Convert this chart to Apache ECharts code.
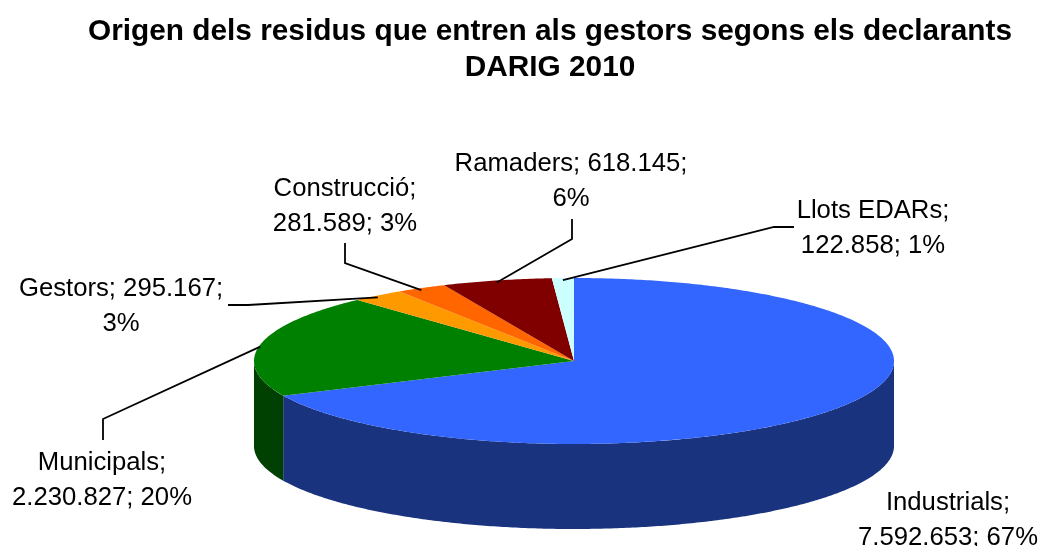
<!DOCTYPE html>
<html>
<head>
<meta charset="utf-8">
<style>
  html, body { margin: 0; background: #fff; }
  #chart { width: 1040px; height: 546px; }
</style>
<script src="https://cdn.jsdelivr.net/npm/echarts@6/dist/echarts.min.js"></script>
</head>
<body>
<div id="chart"></div>
<script>
const categories = ['Industrials', 'Municipals', 'Gestors', 'Construcció', 'Ramaders', 'Llots EDARs']
const values = [7592653, 2230827, 295167, 281589, 618145, 122858]
// percentatges tal com surten a les etiquetes
const percents = [67, 20, 3, 3, 6, 1]

const topColors = ['#3366ff', '#008000', '#ff9900', '#ff6600', '#800000', '#ccffff']
const wallColors = ['#19337f', '#004000', '#7f4c00', '#7f3300', '#400000', '#667f7f']

// geometria del pastis
const cx = 574
const cy = 361
const rx = 320
const ry = 83
const depth = 85

// etiquetes: centre del text, linia on parteix la segona fila i guia
const labelLayout = [
  { x: 948, y: 520, wrap: 'name', guide: null },
  { x: 102, y: 480, wrap: 'name', guide: [[103, 440], [103, 419]] },
  { x: 121, y: 306, wrap: 'value', guide: [[228, 305], [248, 305]] },
  { x: 345, y: 206, wrap: 'name', guide: [[345, 243], [345, 263]] },
  { x: 571, y: 181, wrap: 'value', guide: [[572, 219], [572, 239]] },
  { x: 873, y: 228, wrap: 'name', guide: [[794, 227], [774, 227]] }
]

const total = values.reduce((a, b) => a + b, 0)
const angles = []
let acc = 0
values.forEach(v => {
  const start = acc / total * Math.PI * 2
  acc += v
  angles.push([start, acc / total * Math.PI * 2])
})

function point (t, r = 1, dy = 0) {
  return [cx + rx * r * Math.sin(t), cy - ry * r * Math.cos(t) + dy]
}

function arc (a, b, dy = 0) {
  const pts = []
  const n = Math.max(2, Math.ceil((b - a) / 0.01))
  for (let i = 0; i <= n; i++) pts.push(point(a + (b - a) * i / n, 1, dy))
  return pts
}

function formatValue (v) {
  return String(v).replace(/\B(?=(\d{3})+$)/g, '.')
}

function labelText (i) {
  const name = categories[i] + ';'
  const val = formatValue(values[i]) + ';'
  const pct = percents[i] + '%'
  return labelLayout[i].wrap === 'name' ? name + '\n' + val + ' ' + pct : name + ' ' + val + '\n' + pct
}

function renderWall (params) {
  const i = params.dataIndex
  const a = Math.max(angles[i][0], Math.PI / 2)
  const b = Math.min(angles[i][1], Math.PI * 1.5)
  if (b <= a) return null
  const pts = arc(a, b).concat(arc(a, b, depth).reverse())
  return { type: 'polygon', shape: { points: pts }, style: { fill: wallColors[i] } }
}

function renderTop (params) {
  const i = params.dataIndex
  const pts = [[cx, cy]].concat(arc(angles[i][0], angles[i][1]))
  return { type: 'polygon', shape: { points: pts }, style: { fill: topColors[i] } }
}

function renderLabel (params) {
  const i = params.dataIndex
  const layout = labelLayout[i]
  const children = []
  if (layout.guide) {
    const mid = (angles[i][0] + angles[i][1]) / 2
    children.push({
      type: 'polyline',
      shape: { points: layout.guide.concat([point(mid, 1, 2)]) },
      style: { stroke: '#000', lineWidth: 1.8, fill: null }
    })
  }
  children.push({
    type: 'text',
    style: {
      x: layout.x,
      y: layout.y,
      text: labelText(i),
      align: 'center',
      verticalAlign: 'middle',
      fill: '#000',
      font: '25.7px "Liberation Sans", Arial, sans-serif',
      lineHeight: 35
    }
  })
  return { type: 'group', children }
}

const myChart = echarts.init(document.getElementById('chart'))
myChart.setOption({
  animation: false,
  backgroundColor: '#fff',
  title: {
    text: 'Origen dels residus que entren als gestors segons els declarants\nDARIG 2010',
    left: 545,
    top: 9,
    textAlign: 'center',
    textStyle: {
      fontFamily: '"Liberation Sans", Arial, sans-serif',
      fontSize: 29.8,
      fontWeight: 'bold',
      color: '#000',
      lineHeight: 36
    }
  },
  series: [
    { type: 'custom', coordinateSystem: 'none', data: values, renderItem: renderWall, silent: true },
    { type: 'custom', coordinateSystem: 'none', data: values, renderItem: renderTop, silent: true },
    { type: 'custom', coordinateSystem: 'none', data: values, renderItem: renderLabel, silent: true }
  ]
})
</script>
</body>
</html>
